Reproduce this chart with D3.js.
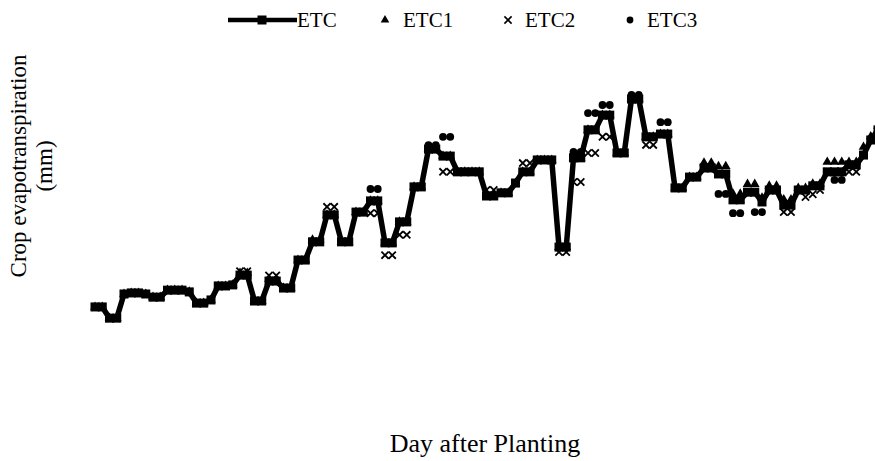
<!DOCTYPE html>
<html>
<head>
<meta charset="utf-8">
<script src="https://cdn.jsdelivr.net/npm/d3@7"></script>
<style>
  html, body { margin: 0; padding: 0; background: #fff; }
  svg { display: block; }
  text { font-family: "Liberation Serif", "Times New Roman", serif; fill: #000; }
</style>
</head>
<body>
<svg id="chart" width="875" height="461"></svg>
<script>
// ---- data ----
const seriesNames = ["ETC", "ETC1", "ETC2", "ETC3"];
const xTitle = "Day after Planting";
const yTitleLines = ["Crop evapotranspiration", "(mm)"];

const ETC = [3.23,3.23,2.91,2.91,3.60,3.63,3.63,3.60,3.51,3.51,
             3.71,3.71,3.71,3.66,3.34,3.34,3.43,3.83,3.83,3.86,
             4.14,4.14,3.40,3.40,3.97,3.97,3.77,3.77,4.57,4.57,
             5.09,5.09,5.86,5.86,5.09,5.09,5.94,5.94,6.26,6.26,
             5.06,5.06,5.66,5.66,6.66,6.66,7.74,7.74,7.54,7.54,
             7.09,7.09,7.09,7.09,6.40,6.40,6.49,6.49,6.77,7.09,
             7.09,7.43,7.43,7.43,4.94,4.94,7.49,7.49,8.29,8.29,
             8.71,8.71,7.63,7.63,9.17,9.17,8.09,8.09,8.17,8.17,
             6.63,6.63,6.94,6.94,7.20,7.20,7.03,7.03,6.29,6.29,
             6.51,6.51,6.23,6.57,6.57,6.14,6.14,6.57,6.57,6.69,
             6.69,7.09,7.09,7.09,7.29,7.29,7.57,8.00,8.29,8.40];

const ETC1 = [3.23,3.23,2.91,2.91,3.60,3.63,3.63,3.60,3.51,3.51,
              3.71,3.71,3.71,3.66,3.34,3.34,3.43,3.83,3.83,3.86,
              4.20,4.20,3.40,3.40,4.03,4.03,3.77,3.77,4.57,4.57,
              5.15,5.15,5.86,5.86,5.09,5.09,5.94,5.94,6.26,6.26,
              5.06,5.06,5.66,5.66,6.66,6.66,7.74,7.74,7.54,7.54,
              7.09,7.09,7.09,7.09,6.45,6.45,6.49,6.49,6.77,7.09,
              7.09,7.43,7.43,7.43,4.94,4.94,7.49,7.49,8.29,8.29,
              8.71,8.71,7.63,7.63,9.17,9.17,8.09,8.09,8.17,8.17,
              6.63,6.63,6.94,6.94,7.35,7.35,7.25,7.25,6.46,6.46,
              6.74,6.74,6.35,6.69,6.69,6.30,6.30,6.63,6.63,6.75,
              6.75,7.37,7.37,7.37,7.37,7.37,7.80,8.10,8.40,8.50];

const ETC2 = [3.23,3.23,2.91,2.91,3.60,3.63,3.63,3.60,3.51,3.51,
              3.71,3.71,3.71,3.66,3.34,3.34,3.43,3.83,3.83,3.86,
              4.25,4.25,3.40,3.40,4.13,4.13,3.77,3.77,4.57,4.57,
              5.09,5.09,6.09,6.09,5.09,5.09,5.94,5.94,5.91,5.91,
              4.71,4.71,5.29,5.29,6.66,6.66,7.74,7.74,7.09,7.09,
              7.09,7.09,7.09,7.09,6.57,6.57,6.49,6.49,6.77,7.34,
              7.34,7.43,7.43,7.43,4.80,4.80,6.80,6.80,7.63,7.63,
              8.09,8.09,7.63,7.63,9.17,9.17,7.86,7.86,8.17,8.17,
              6.63,6.63,6.94,6.94,7.20,7.20,7.03,7.03,6.29,6.29,
              6.51,6.51,6.23,6.57,6.57,5.94,5.94,6.57,6.37,6.45,
              6.57,7.09,7.09,7.09,7.09,7.09,7.57,8.00,8.29,8.40];

const ETC3 = [3.23,3.23,2.91,2.91,3.60,3.63,3.63,3.60,3.51,3.51,
              3.71,3.71,3.71,3.66,3.34,3.34,3.43,3.83,3.83,3.86,
              4.14,4.14,3.40,3.40,3.97,3.97,3.77,3.77,4.57,4.57,
              5.09,5.09,5.86,5.86,5.09,5.09,5.94,5.94,6.60,6.60,
              5.06,5.06,5.66,5.66,6.66,6.66,7.85,7.85,8.09,8.09,
              7.09,7.09,7.09,7.09,6.40,6.40,6.49,6.49,6.77,7.09,
              7.09,7.43,7.43,7.43,4.94,4.94,7.66,7.66,8.77,8.77,
              9.00,9.00,7.63,7.63,9.29,9.29,8.09,8.09,8.51,8.51,
              6.63,6.63,6.94,6.94,7.20,7.20,6.46,6.46,5.91,5.91,
              6.51,5.94,5.94,6.57,6.57,6.14,6.14,6.57,6.57,6.69,
              6.69,7.09,6.86,6.86,7.29,7.29,7.57,8.00,8.29,8.40];

const days = ETC.map((_, i) => i + 1);

// ---- layout ----
const svg = d3.select("#chart");
svg.append("rect").attr("width", 875).attr("height", 461).attr("fill", "#fff");

const x = d3.scaleLinear().domain([1, days.length]).range([95, 95 + 7.25 * (days.length - 1)]);
const y = d3.scaleLinear().domain([0, 10]).range([420, 70]);

const g = svg.append("g");

// ETC line with square markers
const line = d3.line().x((d, i) => x(days[i])).y(d => y(d));
g.append("path").datum(ETC)
  .attr("d", line)
  .attr("fill", "none").attr("stroke", "#000")
  .attr("stroke-width", 5.5).attr("stroke-linejoin", "round");

const sq = 9;
g.selectAll("rect.etc").data(ETC).join("rect").attr("class", "etc")
  .attr("x", (d, i) => x(days[i]) - sq / 2).attr("y", d => y(d) - sq / 2)
  .attr("width", sq).attr("height", sq).attr("fill", "#000");

// ETC1 triangles
const tri = d3.symbol().type(d3.symbolTriangle).size(40);
g.selectAll("path.etc1").data(ETC1).join("path").attr("class", "etc1")
  .attr("d", tri)
  .attr("transform", (d, i) => `translate(${x(days[i])},${y(d)})`)
  .attr("fill", "#000");

// ETC2 crosses
const cr = 3.6;
const crossG = g.selectAll("g.etc2").data(ETC2).join("g").attr("class", "etc2")
  .attr("transform", (d, i) => `translate(${x(days[i])},${y(d)})`);
crossG.append("path")
  .attr("d", `M${-cr},${-cr}L${cr},${cr}M${-cr},${cr}L${cr},${-cr}`)
  .attr("stroke", "#000").attr("stroke-width", 1.8).attr("fill", "none");

// ETC3 dots
g.selectAll("circle.etc3").data(ETC3).join("circle").attr("class", "etc3")
  .attr("cx", (d, i) => x(days[i])).attr("cy", d => y(d))
  .attr("r", 3.9).attr("fill", "#000");

// ---- legend ----
const lg = svg.append("g").attr("font-size", 21);
lg.append("line").attr("x1", 228).attr("x2", 297).attr("y1", 20).attr("y2", 20)
  .attr("stroke", "#000").attr("stroke-width", 4.5);
lg.append("rect").attr("x", 262 - sq / 2).attr("y", 20 - sq / 2).attr("width", sq).attr("height", sq).attr("fill", "#000");
lg.append("text").attr("x", 297).attr("y", 27).text(seriesNames[0]);

lg.append("path").attr("d", d3.symbol().type(d3.symbolTriangle).size(32))
  .attr("transform", "translate(385,20)").attr("fill", "#000");
lg.append("text").attr("x", 403).attr("y", 27).text(seriesNames[1]);

lg.append("path").attr("d", `M${-cr},${-cr}L${cr},${cr}M${-cr},${cr}L${cr},${-cr}`)
  .attr("transform", "translate(508,20)").attr("stroke", "#000").attr("stroke-width", 1.6);
lg.append("text").attr("x", 525).attr("y", 27).text(seriesNames[2]);

lg.append("circle").attr("cx", 630).attr("cy", 20).attr("r", 3.4).attr("fill", "#000");
lg.append("text").attr("x", 647).attr("y", 27).text(seriesNames[3]);

// ---- axis titles ----
svg.append("text").attr("x", 485).attr("y", 452).attr("text-anchor", "middle")
  .attr("font-size", 26).text(xTitle);

const yt = svg.append("text").attr("transform", "translate(0,166) rotate(-90)")
  .attr("text-anchor", "middle").attr("font-size", 23);
yt.append("tspan").attr("x", 0).attr("y", 26).text(yTitleLines[0]);
yt.append("tspan").attr("x", 0).attr("y", 52).text(yTitleLines[1]);
</script>
</body>
</html>
